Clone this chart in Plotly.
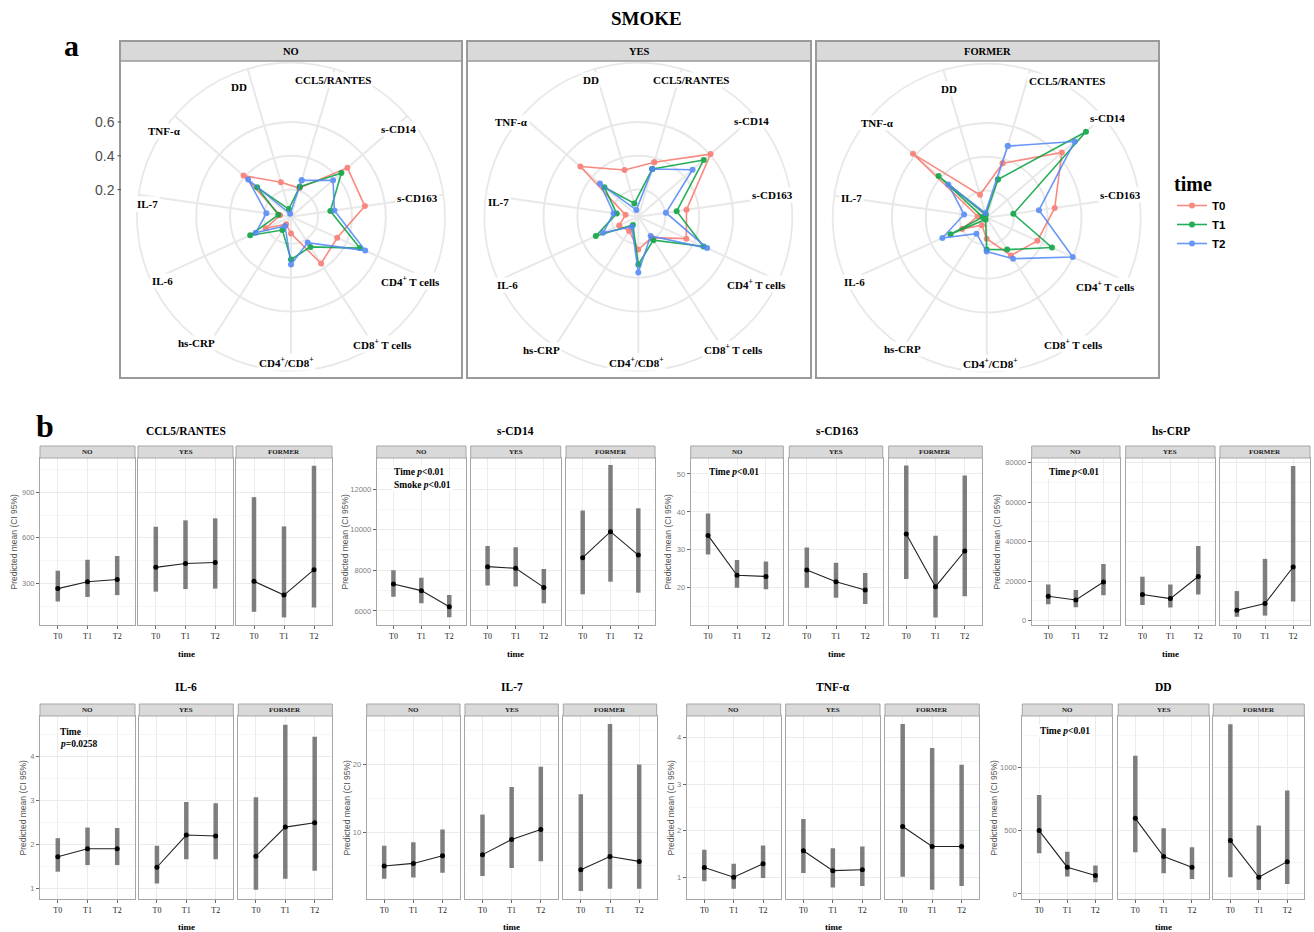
import plotly.graph_objects as go

W, H = 1314, 932

# ---------------- Panel a: radar data ----------------
radar_categories = ["CCL5/RANTES", "s-CD14", "s-CD163", "CD4+ T cells", "CD8+ T cells",
                    "CD4+/CD8+", "hs-CRP", "IL-6", "IL-7", "TNF-α", "DD"]
radar_labels = ["CCL5/RANTES", "s-CD14", "s-CD163", "CD4<sup>+</sup> T cells", "CD8<sup>+</sup> T cells",
                "CD4<sup>+</sup>/CD8<sup>+</sup>", "hs-CRP", "IL-6", "IL-7", "TNF-α", "DD"]
smoke_groups = ["NO", "YES", "FORMER"]
time_points = ["T0", "T1", "T2"]
time_colors = ["#F8766D", "#00A03C", "#4F86F7"]

radar_no_t0 = [0.216, 0.481, 0.481, 0.340, 0.369, 0.140, 0.093, 0.205, 0.105, 0.411, 0.252]
radar_no_t1 = [0.225, 0.434, 0.275, 0.487, 0.252, 0.293, 0.134, 0.305, 0.116, 0.305, 0.087]
radar_no_t2 = [0.264, 0.369, 0.299, 0.522, 0.222, 0.322, 0.105, 0.269, 0.187, 0.375, 0.058]
radar_yes_t0 = [0.375, 0.605, 0.328, 0.352, 0.187, 0.234, 0.140, 0.164, 0.116, 0.493, 0.328]
radar_yes_t1 = [0.334, 0.552, 0.269, 0.464, 0.205, 0.322, 0.099, 0.316, 0.169, 0.305, 0.122]
radar_yes_t2 = [0.334, 0.464, 0.205, 0.487, 0.175, 0.369, 0.111, 0.269, 0.187, 0.340, 0.081]
radar_former_t0 = [0.375, 0.628, 0.446, 0.369, 0.305, 0.164, 0.093, 0.199, 0.093, 0.616, 0.181]
radar_former_t1 = [0.275, 0.816, 0.199, 0.464, 0.264, 0.228, 0.052, 0.275, 0.064, 0.416, 0.058]
radar_former_t2 = [0.481, 0.728, 0.352, 0.599, 0.328, 0.240, 0.152, 0.328, 0.175, 0.340, 0.069]
radar_ticks = [0.2, 0.4, 0.6]

# ---------------- Panel b: predicted means (NO, YES, FORMER) x (T0, T1, T2) ----------------
ccl5_mean = [[265, 310, 325], [405, 430, 437], [313, 222, 390]]
ccl5_low = [[180, 210, 222], [245, 262, 265], [112, 75, 140]]
ccl5_high = [[383, 455, 480], [673, 715, 728], [868, 675, 1075]]

scd14_mean = [[7330, 7000, 6210], [8180, 8100, 7160], [8620, 9900, 8750]]
scd14_low = [[6700, 6380, 5690], [7250, 7200, 6380], [6820, 7440, 6900]]
scd14_high = [[8000, 7640, 6790], [9200, 9130, 8070], [10940, 13180, 11050]]

scd163_mean = [[33.8, 23.3, 23.0], [24.7, 21.6, 19.4], [34.2, 20.3, 29.7]]
scd163_low = [[28.8, 20.0, 19.6], [20.0, 17.4, 15.7], [22.3, 12.2, 17.8]]
scd163_high = [[39.6, 27.3, 26.9], [30.6, 26.6, 23.9], [52.2, 33.7, 49.6]]

hscrp_mean = [[12400, 10500, 19600], [13300, 11200, 22400], [5300, 8700, 27200]]
hscrp_low = [[8300, 6800, 12900], [7900, 6700, 13300], [2000, 2600, 9700]]
hscrp_high = [[18300, 15500, 28700], [22300, 18400, 37800], [15000, 31300, 78300]]

il6_mean = [[1.73, 1.91, 1.91], [1.49, 2.22, 2.20], [1.74, 2.40, 2.50]]
il6_low = [[1.39, 1.54, 1.54], [1.12, 1.67, 1.67], [0.98, 1.23, 1.41]]
il6_high = [[2.15, 2.39, 2.38], [1.98, 2.97, 2.94], [3.08, 4.72, 4.45]]

il7_mean = [[4.98, 5.37, 6.5], [6.67, 8.9, 10.4], [4.43, 6.4, 5.67]]
il7_low = [[3.1, 3.3, 4.0], [3.5, 4.7, 5.7], [1.3, 1.6, 1.6]]
il7_high = [[8.0, 8.5, 10.4], [12.6, 16.7, 19.7], [15.6, 26.0, 20.0]]

tnf_mean = [[1.21, 1.00, 1.29], [1.57, 1.14, 1.16], [2.09, 1.66, 1.66]]
tnf_low = [[0.91, 0.75, 0.98], [1.09, 0.78, 0.81], [1.01, 0.73, 0.81]]
tnf_high = [[1.59, 1.29, 1.68], [2.25, 1.62, 1.66], [4.30, 3.78, 3.42]]

dd_mean = [[500, 211, 145], [597, 295, 211], [421, 132, 255]]
dd_low = [[321, 137, 92], [329, 163, 118], [132, 32, 79]]
dd_high = [[782, 334, 224], [1092, 518, 368], [1340, 540, 816]]

marker_titles = ["CCL5/RANTES", "s-CD14", "s-CD163", "hs-CRP", "IL-6", "IL-7", "TNF-α", "DD"]
y_dticks = [300, 2000, 10, 20000, 1, 10, 1, 500]

# ---------------- layout geometry (pixels) ----------------
SERIF = "Liberation Serif, Times New Roman, serif"
SANS = "Liberation Sans, Arial, sans-serif"

RADAR_CENTERS = [(291, 216.7), (638.3, 216.7), (986.7, 217.7)]
RADAR_R = 154
RADAR_RANGE = [0.04, 0.95]
RADAR_PANELS = [(120, 462), (467, 811), (816, 1159)]
RADAR_TOP, RADAR_STRIP_BOT, RADAR_BOT = 41, 61, 378
LABEL_OFFSETS = [
    [(42, -137), (107, -88), (126, -19), (119, 64), (91, 127), (-5, 145), (-95, 126), (-129, 64), (-144, -13), (-127, -86), (-52, -130)],
    [(53, -137), (113, -96), (134, -22), (118, 67), (95, 132), (-2, 145), (-97, 133), (-131, 68), (-140, -15), (-127, -95), (-47, -137)],
    [(80, -137), (121, -100), (134, -23), (119, 68), (87, 126), (4, 145), (-84, 131), (-132, 64), (-135, -20), (-109, -95), (-38, -129)],
]

GROUP_X = [
    [(40, 135), (138, 233), (236, 332)],
    [(376.7, 466), (470.7, 560.7), (566, 655)],
    [(690.7, 783.3), (789.3, 882.7), (888.7, 982.3)],
    [(1031.7, 1120), (1125.7, 1215), (1220, 1310)],
    [(40, 135), (139.3, 233.3), (238.3, 332.3)],
    [(366.7, 460), (465, 558.3), (563.3, 656.7)],
    [(686.7, 780.7), (785.7, 880), (885, 979.3)],
    [(1022.3, 1112.3), (1118.3, 1209), (1213.3, 1304.3)],
]
ROWS = [dict(strip_top=446, plot_top=458, plot_bot=625, xtitle=654, title=431),
        dict(strip_top=704, plot_top=716, plot_bot=899, xtitle=927, title=687)]
Y_RANGES = [[25, 1126], [5310, 13525], [10.2, 54.2], [-2160, 82360],
            [0.77, 4.92], [0.1, 27.2], [0.53, 4.47], [-40, 1405]]
YTITLE_X = [13, 344, 667, 996, 22, 346, 670, 993]


def px(x):
    return x / W


def py(y):
    return 1 - y / H


fig = go.Figure()
annotations = []
shapes = []

# ---------------- radar panels ----------------
radar_series = [
    [radar_no_t0, radar_no_t1, radar_no_t2],
    [radar_yes_t0, radar_yes_t1, radar_yes_t2],
    [radar_former_t0, radar_former_t1, radar_former_t2],
]
layout_extra = {}
for pi, grp in enumerate(smoke_groups):
    cx, cy = RADAR_CENTERS[pi]
    pname = "polar" if pi == 0 else f"polar{pi + 1}"
    for ti, tname in enumerate(time_points):
        vals = radar_series[pi][ti]
        fig.add_trace(go.Scatterpolar(
            r=vals + [vals[0]], theta=radar_categories + [radar_categories[0]],
            mode="lines+markers", subplot=pname, name=f"<b>{tname}</b>", legendgroup=tname,
            showlegend=(pi == 0), opacity=0.85,
            line=dict(color=time_colors[ti], width=1.6),
            marker=dict(color=time_colors[ti], size=6),
            hoverinfo="skip"))
    layout_extra[pname] = dict(
        domain=dict(x=[px(cx - RADAR_R), px(cx + RADAR_R)], y=[py(cy + RADAR_R), py(cy - RADAR_R)]),
        bgcolor="rgba(0,0,0,0)",
        radialaxis=dict(range=RADAR_RANGE, tickvals=radar_ticks, showticklabels=False, ticks="",
                        showline=False, gridcolor="#E8E8E8", gridwidth=1.8),
        angularaxis=dict(type="category", categoryarray=radar_categories, direction="clockwise",
                         rotation=90 - 360 / len(radar_categories) / 2, showticklabels=False, ticks="",
                         gridcolor="#E8E8E8", gridwidth=1.8, showline=True, linecolor="#E8E8E8", linewidth=1.8),
    )
    x0, x1 = RADAR_PANELS[pi]
    shapes.append(dict(type="rect", xref="paper", yref="paper", x0=px(x0), x1=px(x1), y0=py(RADAR_STRIP_BOT),
                       y1=py(RADAR_TOP), fillcolor="#D9D9D9", line=dict(color="#9A9A9A", width=1.5)))
    shapes.append(dict(type="rect", xref="paper", yref="paper", x0=px(x0), x1=px(x1), y0=py(RADAR_BOT),
                       y1=py(RADAR_TOP), fillcolor="rgba(0,0,0,0)", line=dict(color="#9A9A9A", width=2)))
    annotations.append(dict(text=f"<b>{grp}</b>", x=px((x0 + x1) / 2), y=py((RADAR_TOP + RADAR_STRIP_BOT) / 2),
                            xref="paper", yref="paper", showarrow=False, xanchor="center", yanchor="middle",
                            font=dict(family=SERIF, size=10.5, color="black")))
    for ci, lab in enumerate(radar_labels):
        dx, dy = LABEL_OFFSETS[pi][ci]
        annotations.append(dict(text=f"<b>{lab}</b>", x=px(cx + dx), y=py(cy + dy), xref="paper", yref="paper",
                                showarrow=False, xanchor="center", yanchor="middle", bgcolor="white",
                                font=dict(family=SERIF, size=11, color="black")))

# radial tick labels (left of the NO radar)
cx0, cy0 = RADAR_CENTERS[0]
for v in radar_ticks:
    ypix = cy0 - (v - RADAR_RANGE[0]) / (RADAR_RANGE[1] - RADAR_RANGE[0]) * RADAR_R
    annotations.append(dict(text=f"{v:.1f}", x=px(117), y=py(ypix), xref="paper", yref="paper", showarrow=False,
                            xanchor="right", yanchor="middle", font=dict(family=SANS, size=14, color="#4D4D4D")))
    shapes.append(dict(type="line", xref="paper", yref="paper", x0=px(117.5), x1=px(121), y0=py(ypix), y1=py(ypix),
                       line=dict(color="#4D4D4D", width=1)))

# ---------------- panel b small multiples ----------------
all_means = [ccl5_mean, scd14_mean, scd163_mean, hscrp_mean, il6_mean, il7_mean, tnf_mean, dd_mean]
all_lows = [ccl5_low, scd14_low, scd163_low, hscrp_low, il6_low, il7_low, tnf_low, dd_low]
all_highs = [ccl5_high, scd14_high, scd163_high, hscrp_high, il6_high, il7_high, tnf_high, dd_high]

for g in range(8):
    row = ROWS[0] if g < 4 else ROWS[1]
    for p in range(3):
        k = g * 3 + p + 1
        xa = "x" if k == 1 else f"x{k}"
        ya = "y" if k == 1 else f"y{k}"
        m = all_means[g][p]
        lo = all_lows[g][p]
        hi = all_highs[g][p]
        fig.add_trace(go.Scatter(
            x=time_points, y=m, mode="markers", xaxis=xa, yaxis=ya, showlegend=False, hoverinfo="skip",
            marker=dict(size=1, color="rgba(0,0,0,0)"),
            error_y=dict(type="data", symmetric=False, array=[h - a for h, a in zip(hi, m)],
                         arrayminus=[a - l for a, l in zip(m, lo)], thickness=4.5, width=0,
                         color="rgba(95,95,95,0.8)")))
        fig.add_trace(go.Scatter(
            x=time_points, y=m, mode="lines+markers", xaxis=xa, yaxis=ya, showlegend=False, hoverinfo="skip",
            line=dict(color="#222222", width=1.1), marker=dict(color="black", size=5)))
        x0, x1 = GROUP_X[g][p]
        layout_extra[f"xaxis{k}"] = dict(
            domain=[px(x0), px(x1)], anchor=ya, type="category", categoryorder="array",
            categoryarray=time_points, range=[-0.6, 2.6], showline=True, mirror=True, linecolor="#A6A6A6",
            linewidth=1, showgrid=True, gridcolor="#EBEBEB", gridwidth=1, ticks="outside", ticklen=3,
            tickcolor="#666666", tickfont=dict(family=SERIF, size=8, color="#1A1A1A"), zeroline=False)
        dt = y_dticks[g]
        layout_extra[f"yaxis{k}"] = dict(
            domain=[py(row["plot_bot"]), py(row["plot_top"])], anchor=xa, range=Y_RANGES[g], tick0=0, dtick=dt,
            tickformat="d", showticklabels=(p == 0), ticks="outside" if p == 0 else "", ticklen=3,
            tickcolor="#666666", tickfont=dict(family=SANS, size=7.5, color="#808080"),
            showline=True, mirror=True, linecolor="#A6A6A6", linewidth=1, showgrid=True,
            gridcolor="#EBEBEB", gridwidth=1, zeroline=False,
            minor=dict(tick0=0, dtick=dt / 2, showgrid=True, gridcolor="#F6F6F6", gridwidth=0.6))
        # strip
        shapes.append(dict(type="rect", xref="paper", yref="paper", x0=px(x0), x1=px(x1),
                           y0=py(row["plot_top"]), y1=py(row["strip_top"]), fillcolor="#D9D9D9",
                           line=dict(color="#A6A6A6", width=1)))
        annotations.append(dict(text=f"<b>{smoke_groups[p]}</b>", x=px((x0 + x1) / 2),
                                y=py((row["plot_top"] + row["strip_top"]) / 2), xref="paper", yref="paper",
                                showarrow=False, xanchor="center", yanchor="middle",
                                font=dict(family=SERIF, size=7, color="#1A1A1A")))
    gx0 = GROUP_X[g][0][0]
    gx1 = GROUP_X[g][2][1]
    annotations.append(dict(text=f"<b>{marker_titles[g]}</b>", x=px((gx0 + gx1) / 2), y=py(row["title"]),
                            xref="paper", yref="paper", showarrow=False, xanchor="center", yanchor="middle",
                            font=dict(family=SERIF, size=11.5, color="black")))
    annotations.append(dict(text="<b>time</b>", x=px((gx0 + gx1) / 2), y=py(row["xtitle"]),
                            xref="paper", yref="paper", showarrow=False, xanchor="center", yanchor="middle",
                            font=dict(family=SERIF, size=9, color="black")))
    annotations.append(dict(text="Predicted mean (CI 95%)", x=px(YTITLE_X[g]),
                            y=py((row["plot_top"] + row["plot_bot"]) / 2), xref="paper", yref="paper",
                            showarrow=False, xanchor="center", yanchor="middle", textangle=-90,
                            font=dict(family=SANS, size=8.5, color="#555555")))

# p-value notes
p_notes = [
    ("<b>Time <i>p</i>&lt;0.01</b>", 392, 472),
    ("<b>Smoke <i>p</i>&lt;0.01</b>", 392, 484.5),
    ("<b>Time <i>p</i>&lt;0.01</b>", 706.5, 472.5),
    ("<b>Time <i>p</i>&lt;0.01</b>", 1046.5, 472.5),
    ("<b>Time</b>", 57.5, 731.5),
    ("<b><i>p</i>=0.0258</b>", 57.5, 743.5),
    ("<b>Time <i>p</i>&lt;0.01</b>", 1038, 731),
]
for txt, xx, yy in p_notes:
    annotations.append(dict(text=txt, x=px(xx), y=py(yy), xref="paper", yref="paper", showarrow=False,
                            xanchor="left", yanchor="middle", bgcolor="white",
                            font=dict(family=SERIF, size=9.5, color="black")))

# headings
annotations.append(dict(text="<b>SMOKE</b>", x=px(646), y=py(18), xref="paper", yref="paper", showarrow=False,
                        xanchor="center", yanchor="middle", font=dict(family=SERIF, size=19, color="black")))
annotations.append(dict(text="<b>a</b>", x=px(71), y=py(45), xref="paper", yref="paper", showarrow=False,
                        xanchor="center", yanchor="middle", font=dict(family=SERIF, size=30, color="black")))
annotations.append(dict(text="<b>b</b>", x=px(45), y=py(426), xref="paper", yref="paper", showarrow=False,
                        xanchor="center", yanchor="middle", font=dict(family=SERIF, size=32, color="black")))

fig.update_layout(
    width=W, height=H, autosize=False, margin=dict(l=0, r=0, t=0, b=0),
    paper_bgcolor="white", plot_bgcolor="white",
    annotations=annotations, shapes=shapes,
    legend=dict(x=px(1172), y=py(165), xanchor="left", yanchor="top", bgcolor="rgba(0,0,0,0)",
                title=dict(text="<b>time</b>", font=dict(family=SERIF, size=20, color="black")),
                font=dict(family=SANS, size=11.5, color="black"), itemwidth=30, tracegroupgap=0),
    **layout_extra,
)

fig.write_html("out.html")
